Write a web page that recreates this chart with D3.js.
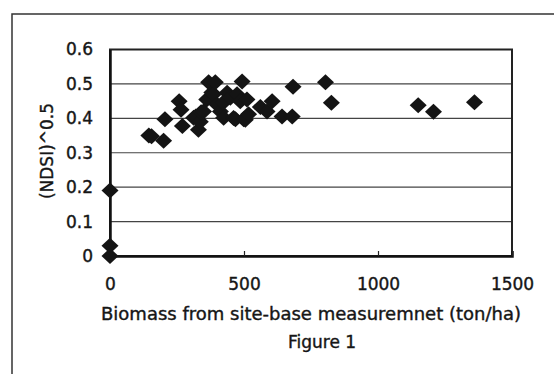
<!DOCTYPE html>
<html>
<head>
<meta charset="utf-8">
<script src="https://cdn.jsdelivr.net/npm/d3@7"></script>
<style>
    body { margin: 0; background: #fff; }
    text { font-family: "DejaVu Sans", sans-serif; fill: #161616; stroke: #161616; stroke-width: 0.4px; }
</style>
</head>
<body>
<script>
//data
var biomass = [0, 0, 0,
    145, 155, 200, 205, 258, 265, 270, 312, 320, 330, 337, 340, 349,
    361, 368, 380, 386, 393, 399, 412, 423, 424, 437, 449, 461, 468,
    474, 486, 493, 499, 505, 511, 517, 561, 586, 605, 642, 680, 683,
    804, 826, 1150, 1207, 1360];
var ndsi = [0.19, 0.03, 0.0,
    0.35, 0.348, 0.335, 0.397, 0.45, 0.425, 0.378, 0.402, 0.405, 0.367, 0.39, 0.418, 0.42,
    0.455, 0.505, 0.475, 0.47, 0.505, 0.44, 0.42, 0.446, 0.402, 0.474, 0.46, 0.401, 0.397,
    0.47, 0.45, 0.507, 0.397, 0.396, 0.455, 0.412, 0.433, 0.42, 0.45, 0.405, 0.405, 0.492,
    0.505, 0.445, 0.438, 0.419, 0.447];
var xTicks = [0, 500, 1000, 1500];
var yTicks = [0, 0.1, 0.2, 0.3, 0.4, 0.5, 0.6];

window.onload = function(){

    var w = 554, h = 374;

    var svg = d3.select("body")
        .append("svg")
        .attr("width", w)
        .attr("height", h);

    //outer chart frame, runs off the page on the right and bottom
    svg.append("rect")
        .attr("x", 12)
        .attr("y", 14)
        .attr("width", 600)
        .attr("height", 400)
        .style("fill", "none")
        .style("stroke", "#333")
        .style("stroke-width", 1.5);

    var x = d3.scaleLinear()
        .domain([0, 1500])
        .range([110, 512]);

    var y = d3.scaleLinear()
        .domain([0, 0.6])
        .range([256, 49.5]);

    //horizontal gridlines
    svg.selectAll(".grid")
        .data(yTicks.slice(1, -1))
        .enter()
        .append("line")
        .attr("class", "grid")
        .attr("x1", x(0))
        .attr("x2", x(1500))
        .attr("y1", function(d){ return y(d); })
        .attr("y2", function(d){ return y(d); })
        .style("stroke", "#444")
        .style("stroke-width", 1.2);

    //plot area box
    svg.append("rect")
        .attr("x", x(0))
        .attr("y", y(0.6))
        .attr("width", x(1500) - x(0))
        .attr("height", y(0) - y(0.6))
        .style("fill", "none")
        .style("stroke", "#222")
        .style("stroke-width", 2);

    //x axis: ticks point up into the plot
    var xAxis = d3.axisBottom(x)
        .tickValues(xTicks)
        .tickSize(-5)
        .tickPadding(22)
        .tickFormat(d3.format("d"));

    var gx = svg.append("g")
        .attr("transform", "translate(0," + y(0) + ")")
        .call(xAxis);
    gx.select(".domain").style("stroke", "#111").style("stroke-width", 2.5);
    gx.selectAll(".tick line").style("stroke", "#222").style("stroke-width", 1.2);
    gx.selectAll(".tick text")
        .attr("font-family", null)
        .style("font-size", "17px");

    //y axis labels only
    var yAxis = d3.axisLeft(y)
        .tickValues(yTicks)
        .tickSize(0)
        .tickPadding(17)
        .tickFormat(function(d){ return d === 0 ? "0" : d3.format(".1f")(d); });

    var gy = svg.append("g")
        .attr("transform", "translate(" + x(0) + ",0)")
        .call(yAxis);
    gy.select(".domain").style("stroke", "#111").style("stroke-width", 2.5);
    gy.selectAll(".tick text")
        .attr("font-family", null)
        .style("font-size", "17px");

    //diamond markers
    var diamond = "M0,-8L8.5,0L0,8L-8.5,0Z";
    svg.selectAll(".pt")
        .data(biomass)
        .enter()
        .append("path")
        .attr("class", "pt")
        .attr("d", diamond)
        .attr("transform", function(d, i){
            return "translate(" + x(d) + "," + y(ndsi[i]) + ")";
        })
        .style("fill", "#141414");

    //axis titles
    svg.append("text")
        .attr("text-anchor", "middle")
        .attr("transform", "translate(53,151) rotate(-90)")
        .style("font-size", "17px")
        .text("(NDSI)^0.5");

    svg.append("text")
        .attr("text-anchor", "middle")
        .attr("x", 311)
        .attr("y", 320)
        .style("font-size", "18px")
        .text("Biomass from site-base measuremnet (ton/ha)");

    svg.append("text")
        .attr("text-anchor", "middle")
        .attr("x", 322)
        .attr("y", 348)
        .style("font-size", "17px")
        .text("Figure 1");
};
</script>
</body>
</html>
